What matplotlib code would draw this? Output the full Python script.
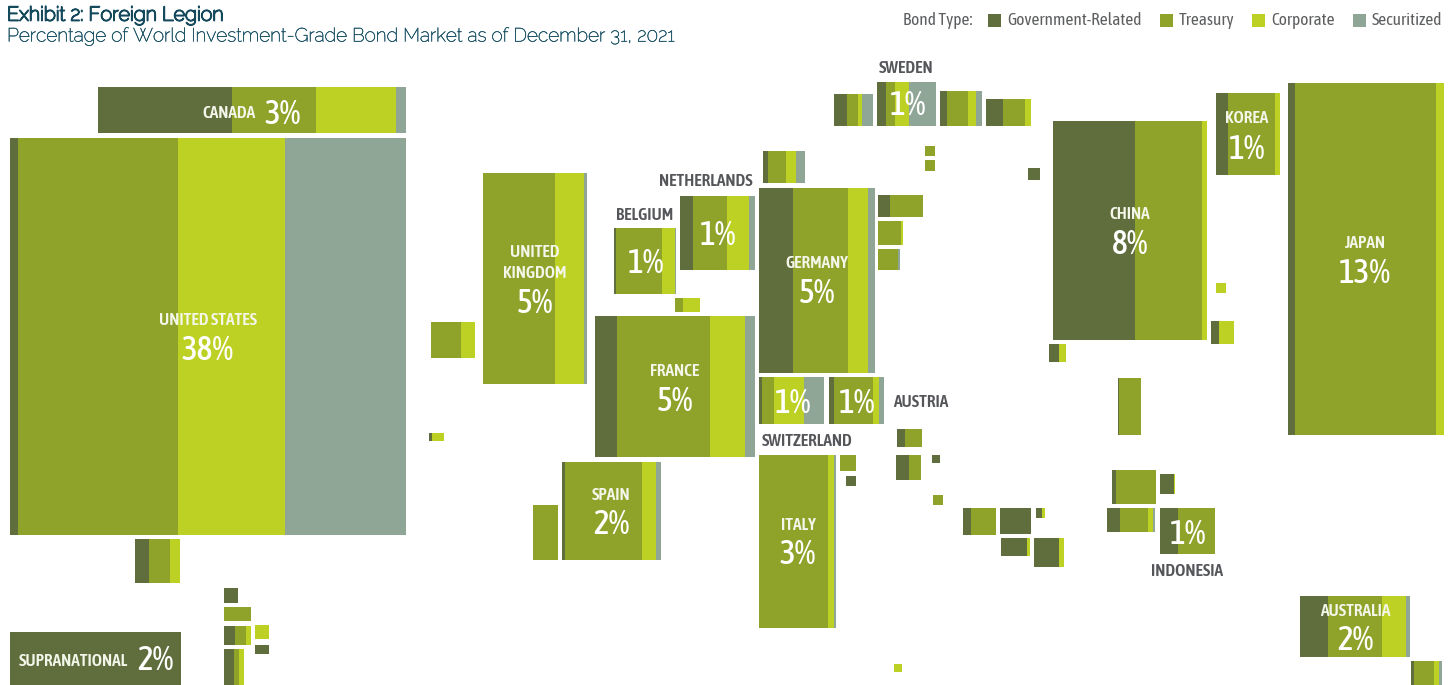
import matplotlib
matplotlib.use("Agg")
import matplotlib.pyplot as plt
import matplotlib.patheffects as pe
import numpy as np

# --- Bond type mix of each block (in px of block width) ---
gov = [134, 8, 14, 171, 14, 0, 11, 0, 14, 10,
       0, 3, 0, 2, 13, 5, 34, 12, 0, 0,
       0, 22, 3, 0, 3, 5, 0, 0, 10, 8,
       13, 8, 0, 8, 31, 6, 26, 25, 13, 9,
       7, 17, 0, 0, 12, 82, 12, 7, 0, 8,
       10, 1, 4, 14, 13, 18, 28, 3, 0]
tsy = [84, 160, 21, 0, 0, 27, 11, 0, 0, 5,
       30, 0, 72, 46, 34, 18, 55, 33, 23, 20,
       8, 93, 77, 25, 12, 39, 69, 16, 0, 17,
       12, 0, 10, 25, 0, 0, 0, 0, 11, 9,
       21, 22, 10, 10, 0, 67, 47, 141, 0, 0,
       0, 22, 40, 0, 28, 37, 54, 20, 0]
corp = [80, 107, 10, 0, 0, 0, 5, 14, 0, 5,
        14, 12, 29, 13, 22, 10, 20, 0, 2, 0,
        17, 35, 14, 0, 30, 6, 6, 0, 0, 0,
        0, 0, 0, 0, 0, 3, 3, 5, 4, 14,
        8, 6, 0, 0, 0, 5, 5, 8, 10, 15,
        7, 0, 0, 1, 5, 0, 24, 5, 8]
sec = [10, 121, 0, 0, 0, 0, 0, 0, 0, 0,
       0, 0, 3, 1, 6, 9, 7, 0, 0, 2,
       0, 10, 5, 0, 20, 5, 2, 0, 0, 0,
       0, 0, 0, 0, 0, 0, 0, 0, 11, 27,
       6, 0, 0, 0, 0, 0, 0, 0, 0, 0,
       0, 0, 0, 0, 2, 0, 4, 3, 0]

# --- Where each block sits on the map ---
block_left = [98, 10, 135, 10, 224, 224, 224, 255, 255, 224,
              431, 429, 483, 614, 680, 763, 759, 878, 878, 878,
              675, 595, 562, 533, 759, 829, 759, 840, 846, 897,
              896, 932, 933, 963, 1000, 1036, 1001, 1034, 834, 877,
              940, 986, 925, 925, 1028, 1053, 1216, 1288, 1216, 1211,
              1049, 1118, 1112, 1160, 1107, 1160, 1300, 1411, 894]
block_top = [87, 138, 539, 632, 588, 607, 626, 625, 645, 649,
             322, 433, 173, 228, 196, 151, 188, 195, 221, 249,
             298, 316, 462, 505, 377, 377, 455, 455, 476, 429,
             455, 455, 495, 508, 508, 508, 538, 538, 94, 82,
             91, 99, 146, 160, 168, 121, 93, 83, 283, 321,
             344, 378, 470, 474, 508, 508, 596, 661, 664]
block_bottom = [133, 535, 583, 685, 603, 621, 645, 639, 654, 685,
                358, 441, 384, 294, 270, 183, 373, 217, 245, 270,
                312, 457, 560, 560, 424, 424, 628, 471, 486, 447,
                480, 463, 505, 535, 534, 518, 556, 567, 126, 126,
                126, 126, 156, 171, 180, 340, 175, 435, 293, 344,
                362, 435, 504, 494, 532, 554, 657, 685, 672]

# --- Labels ---
pct_labels = ["3%", "38%", "5%", "1%", "1%", "5%", "5%", "2%", "1%", "1%",
              "3%", "1%", "8%", "1%", "13%", "1%", "2%", "2%"]
pct_x = [283, 208, 535, 646, 718, 817, 675, 611, 793, 857,
         798, 908, 1130, 1247, 1365, 1188, 1355, 155]
pct_y = [114, 350, 303, 263, 235, 293, 401, 524, 403, 403,
         555, 105, 244, 149, 273, 534, 640, 661]

white_names = ["CANADA", "UNITED STATES", "UNITED", "KINGDOM", "GERMANY", "FRANCE", "SPAIN",
               "ITALY", "CHINA", "KOREA", "JAPAN", "AUSTRALIA", "SUPRANATIONAL"]
white_x = [229, 208, 535, 535, 817, 675, 611, 798, 1130, 1247, 1365, 1355, 73]
white_y = [113, 320, 252, 273, 263, 371, 495, 526, 214, 118, 243, 611, 661]

dark_names = ["BELGIUM", "NETHERLANDS", "SWITZERLAND", "AUSTRIA", "SWEDEN", "INDONESIA"]
dark_x = [645, 706, 807, 921, 906, 1187]
dark_y = [215, 181, 441, 402, 68, 571]

bond_types = ["Government-Related", "Treasury", "Corporate", "Securitized"]
colors = ["#5f6e3c", "#8fa32b", "#bdd124", "#8fa595"]
swatch_x = [988, 1160, 1252, 1353]

narrow = ['Asap Condensed', 'Barlow Condensed', 'Open Sans']

fig = plt.figure(figsize=(14.56, 6.85), dpi=100)
ax = fig.add_axes([0, 0, 1, 1])
ax.set_xlim(0, 1456)
ax.set_ylim(685, 0)
ax.axis('off')

# --- Draw blocks ---
tops = np.array(block_top)
heights = np.array(block_bottom) - tops
lefts = np.array(block_left, dtype=float)
centers = tops + heights / 2
for series, color in zip([gov, tsy, corp, sec], colors):
    ax.barh(centers, series, left=lefts, height=heights, color=color, linewidth=0)
    lefts = lefts + np.array(series)

# --- Labels on the map ---
for name, x, y in zip(white_names, white_x, white_y):
    ax.text(x, y, name, family=narrow, color='#f4f6ea', fontsize=12.5, fontweight=600, ha='center', va='center')
for name, x, y in zip(dark_names, dark_x, dark_y):
    ax.text(x, y, name, family=narrow, color='#55565a', fontsize=12.5, fontweight=600, ha='center', va='center')
for pct, x, y in zip(pct_labels, pct_x, pct_y):
    ax.text(x, y, pct, family=narrow, color='white', fontsize=24, fontweight=500, ha='center', va='center')

# --- Title (Raleway comes out hairline thin here, so thicken it with a stroke) ---
ax.text(7, 15.5, "Exhibit 2: Foreign Legion", family=['Raleway', 'Open Sans'], fontsize=14.3, color='#15495c',
        va='center', path_effects=[pe.withStroke(linewidth=1.1, foreground='#15495c')])
ax.text(7, 36.5, "Percentage of World Investment-Grade Bond Market as of December 31, 2021",
        family=['Raleway', 'Lato'], fontsize=13.75, color='#1f5568', va='center',
        path_effects=[pe.withStroke(linewidth=0.35, foreground='#1f5568')])

# --- Legend ---
ax.text(903, 20, "Bond Type:", family=narrow, color='#5d5e60', fontsize=12.5, va='center')
for label, color, x in zip(bond_types, colors, swatch_x):
    ax.barh(20, 13, left=x, height=13, color=color, linewidth=0)
    ax.text(x + 19, 20, label, family=narrow, color='#5d5e60', fontsize=12.5, va='center')

fig.savefig("out.png", dpi=100)
